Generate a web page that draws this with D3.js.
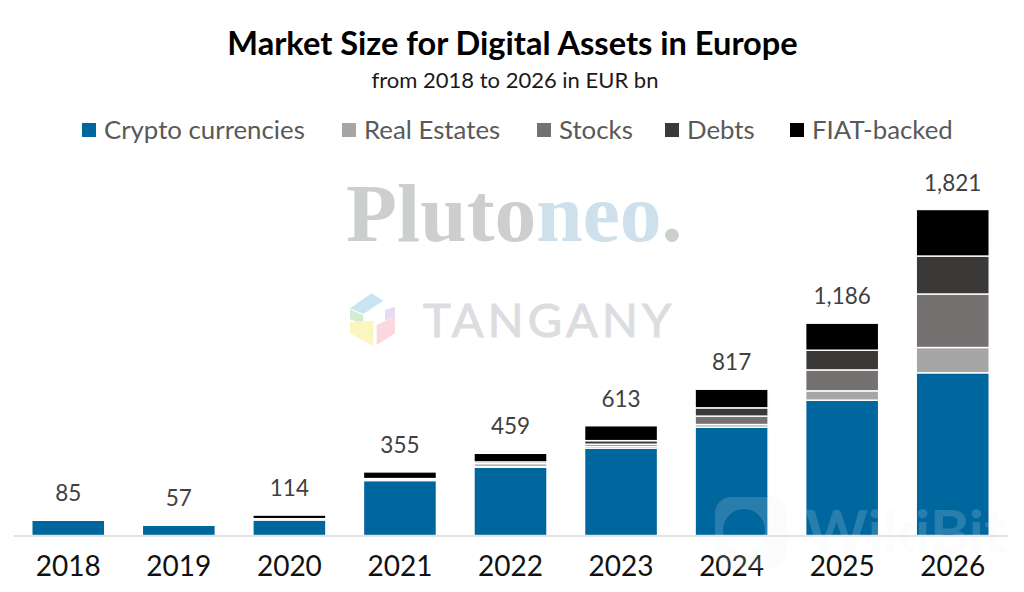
<!DOCTYPE html>
<html>
<head>
<meta charset="utf-8">
<script src="https://cdn.jsdelivr.net/npm/d3@7"></script>
<style>
  html, body { margin: 0; padding: 0; background: #fff; }
  svg { display: block; }
  text { font-family: Lato, "Open Sans", sans-serif; }
</style>
</head>
<body>
<svg id="chart" width="1024" height="592"></svg>
<script>
const years = ["2018", "2019", "2020", "2021", "2022", "2023", "2024", "2025", "2026"];
const crypto = [85, 57, 87, 307, 381, 488, 605, 756, 909];
const realEstates = [0, 0, 2, 2, 6, 10, 15, 52, 141];
const stocks = [0, 0, 2, 4, 14, 12, 47, 117, 299];
const debts = [0, 0, 3, 5, 10, 20, 46, 110, 212];
const fiat = [0, 0, 20, 37, 48, 83, 104, 151, 260];
const totals = [85, 57, 114, 355, 459, 613, 817, 1186, 1821];

const seriesNames = ["Crypto currencies", "Real Estates", "Stocks", "Debts", "FIAT-backed"];
const seriesColors = ["#00669e", "#a6a6a6", "#767171", "#3b3838", "#000000"];
const legendX = [82, 342, 537, 665, 790];

const svg = d3.select("#chart");
const baseY = 535.5;

const table = years.map((year, i) => ({
    year: year,
    "Crypto currencies": crypto[i],
    "Real Estates": realEstates[i],
    "Stocks": stocks[i],
    "Debts": debts[i],
    "FIAT-backed": fiat[i]
}));

const x = d3.scaleBand().domain(years).range([13, 1008]).paddingInner(0.34).paddingOuter(0.17);
const y = d3.scaleLinear().domain([0, 1821]).range([baseY, 209.5]);
const color = d3.scaleOrdinal().domain(seriesNames).range(seriesColors);
const stacked = d3.stack().keys(seriesNames)(table);

// Title block
svg.append("text").attr("x", 512.5).attr("y", 55).attr("text-anchor", "middle")
    .attr("font-size", 32.6).attr("font-weight", 700).attr("fill", "#000")
    .text("Market Size for Digital Assets in Europe");
svg.append("text").attr("x", 515).attr("y", 88).attr("text-anchor", "middle")
    .attr("font-size", 22).attr("fill", "#1a1a1a")
    .text("from 2018 to 2026 in EUR bn");

// Legend
const legend = svg.append("g").selectAll("g").data(seriesNames).enter().append("g")
    .attr("transform", (d, i) => `translate(${legendX[i]},0)`);
legend.append("rect").attr("y", 123).attr("width", 14).attr("height", 14).attr("fill", d => color(d));
legend.append("text").attr("x", 22).attr("y", 139).attr("font-size", 25.8).attr("fill", "#595959").text(d => d);

// Logos behind the bars
const logos = svg.append("g");
const pluto = logos.append("text").attr("x", 346).attr("y", 241)
    .attr("font-size", 83.5).attr("font-weight", 700)
    .style("font-family", "'Liberation Serif', serif").attr("fill", "#cdcfcf");
pluto.append("tspan").text("Pluto");
pluto.append("tspan").attr("fill", "#cde0ec").text("neo");
pluto.append("tspan").text(".");
logos.append("text").attr("x", 423).attr("y", 337)
    .attr("font-size", 47).attr("letter-spacing", 4.2).attr("fill", "#dcdde0")
    .attr("stroke", "#dcdde0").attr("stroke-width", 1)
    .text("TANGANY");

// little hexagon logo, drawn in zoomed-crop units
const hex = logos.append("g").attr("transform", "translate(330,170) scale(0.3333)");
[
    ["#c9e4f3", "60,415 125,370 160,392 100,432"],
    ["#cfeecf", "60,418 100,436 100,462 60,448"],
    ["#fbf5c0", "60,455 130,452 130,528 60,490"],
    ["#fbd7df", "140,465 195,440 195,490 140,525"],
    ["#e6dcf2", "165,420 195,410 195,440 165,452"]
].forEach(p => hex.append("polygon").attr("points", p[1]).attr("fill", p[0]));

// Bars
svg.append("g").selectAll("g").data(stacked).enter().append("g")
    .attr("fill", d => color(d.key))
    .selectAll("rect").data(d => d.filter(s => s[1] > s[0])).enter().append("rect")
    .attr("x", d => x(d.data.year))
    .attr("y", d => y(d[1]))
    .attr("width", x.bandwidth())
    .attr("height", d => y(d[0]) - y(d[1]))
    .attr("stroke", "#fff").attr("stroke-width", 1.4);

// Totals above the bars
svg.append("g").selectAll("text").data(totals).enter().append("text")
    .attr("x", (d, i) => x(years[i]) + x.bandwidth() / 2)
    .attr("y", d => y(d) - 19)
    .attr("text-anchor", "middle").attr("font-size", 22.5).attr("fill", "#404040")
    .text(d => d3.format(",")(d));

// Year axis
const axis = svg.append("g").attr("transform", `translate(0,${baseY})`)
    .call(d3.axisBottom(x).tickSize(0).tickPadding(21));
axis.select(".domain").attr("stroke", "#d9d9d9").attr("stroke-width", 1.5);
axis.selectAll("text").attr("font-size", 28).attr("fill", "#111")
    .style("font-family", "Lato, 'Open Sans', sans-serif");

// WikiBit watermark over everything
const wm = svg.append("g").attr("fill", "#eef2f5").attr("opacity", 0.17);
wm.append("path").attr("fill-rule", "evenodd")
    .attr("d", "M731,497h40a16,16 0 0 1 16,16v40a16,16 0 0 1 -16,16h-40a16,16 0 0 1 -16,-16v-40a16,16 0 0 1 16,-16z"
        + "M723,530a21,21 0 1 0 42,0a21,21 0 1 0 -42,0z");
wm.append("text").attr("x", 805).attr("y", 553).attr("font-size", 60).attr("font-weight", 700).text("WikiBit");
</script>
</body>
</html>
